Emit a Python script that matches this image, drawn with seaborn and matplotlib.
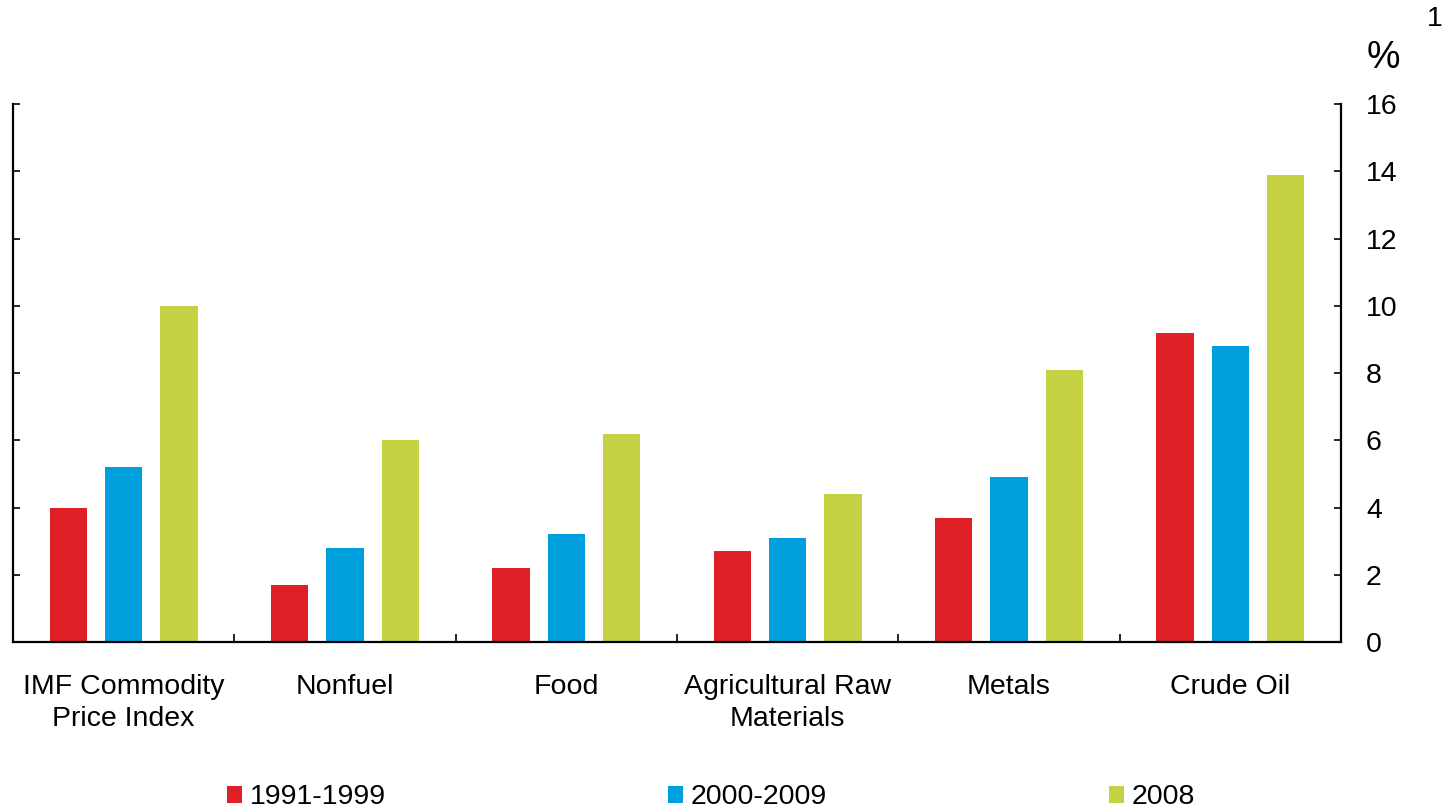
import matplotlib
matplotlib.use("Agg")
import matplotlib.pyplot as plt
from matplotlib.patches import Patch
import seaborn as sns
import pandas as pd

categories = ["IMF Commodity\nPrice Index", "Nonfuel", "Food",
              "Agricultural Raw\nMaterials", "Metals", "Crude Oil"]
series_names = ["1991-1999", "2000-2009", "2008"]
vals_1991_1999 = [4.0, 1.7, 2.2, 2.7, 3.7, 9.2]
vals_2000_2009 = [5.2, 2.8, 3.2, 3.1, 4.9, 8.8]
vals_2008 = [10.0, 6.0, 6.2, 4.4, 8.1, 13.9]
y_ticks = [0, 2, 4, 6, 8, 10, 12, 14, 16]
colors = ["#E02027", "#00A0DF", "#C3D142"]

df = pd.DataFrame({
    "category": categories * 3,
    "series": [s for s in series_names for _ in categories],
    "value": vals_1991_1999 + vals_2000_2009 + vals_2008,
})

sns.set_theme(style="white")
plt.rcParams["font.family"] = ["Liberation Sans", "DejaVu Sans"]
plt.rcParams["text.color"] = "black"
FS = 20.5

fig = plt.figure(figsize=(14.45, 8.10), dpi=100)
ax = fig.add_axes([0.009, 0.2074, 0.919, 0.6642])

sns.barplot(data=df, x="category", y="value", hue="series",
            order=categories, hue_order=series_names, palette=colors,
            width=0.75, gap=0.33, saturation=1, legend=False, ax=ax,
            linewidth=0, err_kws={"linewidth": 0})

ax.set_xlim(-0.5, len(categories) - 0.5)
ax.set_ylim(0, 16)
ax.set_yticks(y_ticks)
ax.set_xlabel("")
ax.set_ylabel("")

for side in ["left", "right", "bottom"]:
    ax.spines[side].set_visible(True)
    ax.spines[side].set_color("black")
    ax.spines[side].set_linewidth(1.6)
ax.spines["top"].set_visible(False)

ax.tick_params(axis="y", left=True, right=True, labelleft=False,
               labelright=True, direction="in", length=5, width=1.2,
               color="black", labelsize=FS, pad=18)
ax.set_xticks([i + 0.5 for i in range(len(categories) - 1)], minor=True)
ax.tick_params(axis="x", which="major", length=0, labelsize=FS, pad=23)
ax.tick_params(axis="x", which="minor", bottom=True, direction="in",
               length=5.5, width=1.2, color="black")
for lbl in ax.get_xticklabels():
    lbl.set_linespacing(1.3)
    lbl.set_color("black")
for lbl in ax.get_yticklabels():
    lbl.set_color("black")

fig.text(0.9455, 0.929, "%", fontsize=27, ha="left", va="center", color="black")
fig.text(0.9875, 0.977, "1", fontsize=FS, ha="left", va="center", color="black")

handles = [Patch(facecolor=c, edgecolor="none") for c in colors]
fig.legend(handles, series_names, loc="center", bbox_to_anchor=(0.492, 0.0155),
           ncol=3, frameon=False, fontsize=FS, handlelength=0.52,
           handleheight=0.52, handletextpad=0.28, columnspacing=9.9,
           borderaxespad=0, borderpad=0, labelcolor="black")

fig.savefig("out.png", dpi=100, facecolor="white")
